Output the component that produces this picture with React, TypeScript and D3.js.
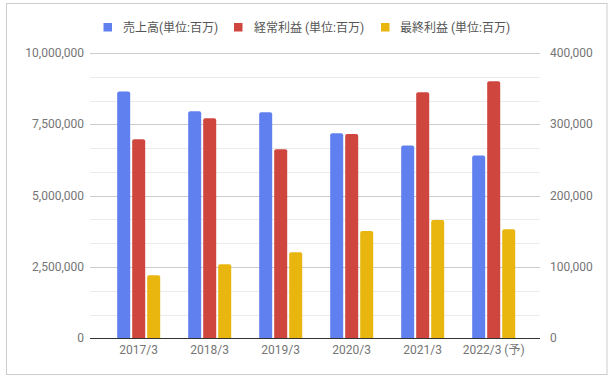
import React from "react";
import * as d3 from "d3";

const categories = ["2017/3", "2018/3", "2019/3", "2020/3", "2021/3", "2022/3 (予)"];
const seriesNames = ["売上高(単位:百万)", "経常利益 (単位:百万)", "最終利益 (単位:百万)"];
const sales = [8650000, 7960000, 7920000, 7190000, 6760000, 6410000];
const ordinaryProfit = [279000, 308500, 265000, 286400, 344900, 360300];
const netProfit = [88300, 103800, 120600, 150400, 165900, 152800];
const leftTicks = [0, 2500000, 5000000, 7500000, 10000000];
const rightTicks = [0, 100000, 200000, 300000, 400000];
const colors = ["#6180f0", "#cf463f", "#e8b60f"];

const W = 614;
const H = 381;
const plotTop = 53;
const plotBottom = 338.3;
const gridLeft = 90;
const gridRight = 540;
const font = "Roboto, 'Noto Sans CJK JP', sans-serif";

function topRoundedRect(x: number, y: number, w: number, h: number, r: number) {
  const rr = Math.min(r, h, w / 2);
  return `M${x},${y + h}V${y + rr}Q${x},${y} ${x + rr},${y}H${x + w - rr}Q${x + w},${y} ${x + w},${y + rr}V${y + h}Z`;
}

export default function App() {
  const yLeft = d3.scaleLinear().domain([0, 10000000]).range([plotBottom, plotTop]);
  const yRight = d3.scaleLinear().domain([0, 400000]).range([plotBottom, plotTop]);
  const x0 = d3
    .scaleBand<string>()
    .domain(categories)
    .range([103.2, 529.2])
    .paddingInner(0.394)
    .paddingOuter(0.197);
  const x1 = d3
    .scaleBand<string>()
    .domain(["a", "b", "c"])
    .range([0, x0.bandwidth()])
    .paddingInner(2 / 15);

  const fmt = d3.format(",");
  const gridVals = d3.range(0, 13).map((i) => (i * 10000000) / 12);

  const series = [
    { key: "a", values: sales, scale: yLeft },
    { key: "b", values: ordinaryProfit, scale: yRight },
    { key: "c", values: netProfit, scale: yRight },
  ];

  const legendItems = [
    { sq: 103.5, tx: 123 },
    { sq: 234, tx: 254 },
    { sq: 381, tx: 400 },
  ];

  return (
    <svg width={W} height={H} style={{ display: "block", position: "absolute", left: 0, top: 0 }}>
      <rect x={0} y={0} width={W} height={H} fill="#fff" />
      <rect x={6.5} y={3.5} width={600.5} height={371} fill="#fff" stroke="#cccccc" strokeWidth={1} />

      {/* legend */}
      {seriesNames.map((n, i) => (
        <g key={n}>
          <rect x={legendItems[i].sq} y={23} width={8.5} height={8.5} fill={colors[i]} />
          <text
            x={legendItems[i].tx}
            y={32}
            fontSize={12}
            fontFamily={font}
            fill="#555"
          >
            {n}
          </text>
        </g>
      ))}

      {/* gridlines */}
      {gridVals.slice(1).map((v, i) => {
        const y = Math.round(yLeft(v)) + 0.5;
        const major = (i + 1) % 3 === 0;
        return (
          <line
            key={i}
            x1={gridLeft}
            x2={gridRight}
            y1={y}
            y2={y}
            stroke={major ? "#cccccc" : "#ebebeb"}
            strokeWidth={1}
          />
        );
      })}

      {/* bars */}
      {categories.map((c, ci) => (
        <g key={c} transform={`translate(${x0(c)},0)`}>
          {series.map((s, si) => {
            const y = s.scale(s.values[ci]);
            const h = plotBottom - y;
            return (
              <path
                key={s.key}
                d={topRoundedRect(x1(s.key)!, y, x1.bandwidth(), h, 2)}
                fill={colors[si]}
              />
            );
          })}
        </g>
      ))}

      {/* baseline */}
      <line x1={gridLeft} x2={gridRight} y1={338.5} y2={338.5} stroke="#333" strokeWidth={1} />

      {/* left axis labels */}
      {leftTicks.map((t) => (
        <text
          key={t}
          x={84}
          y={yLeft(t) + 4}
          textAnchor="end"
          fontSize={12}
          fontFamily={font}
          fill="#757575"
        >
          {fmt(t)}
        </text>
      ))}

      {/* right axis labels */}
      {rightTicks.map((t) => (
        <text
          key={t}
          x={550}
          y={yRight(t) + 4}
          textAnchor="start"
          fontSize={12}
          fontFamily={font}
          fill="#757575"
        >
          {fmt(t)}
        </text>
      ))}

      {/* x labels */}
      {categories.map((c) => (
        <text
          key={c}
          x={x0(c)! + x0.bandwidth() / 2}
          y={354}
          textAnchor="middle"
          fontSize={12}
          fontFamily={font}
          fill="#757575"
        >
          {c}
        </text>
      ))}
    </svg>
  );
}
